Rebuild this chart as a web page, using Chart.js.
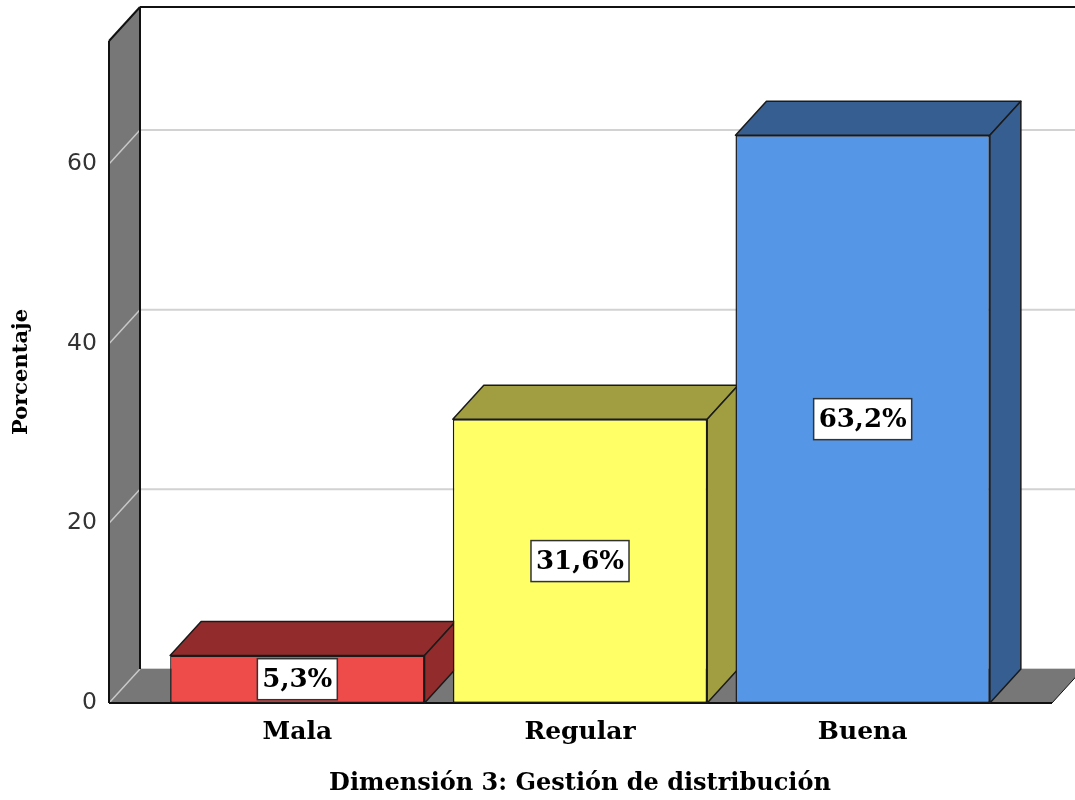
<!DOCTYPE html>
<html>
<head>
<meta charset="utf-8">
<script src="https://cdn.jsdelivr.net/npm/chart.js@4.4.1/dist/chart.umd.min.js"></script>
<style>
  body { margin: 0; background: #fff; }
  #wrap { width: 1075px; height: 800px; }
</style>
</head>
<body>
<div id="wrap"><canvas id="chart" width="1075" height="800"></canvas></div>
<script>
const categories = ["Mala", "Regular", "Buena"];
const percentages = [5.3, 31.6, 63.2];
const valueLabels = ["5,3%", "31,6%", "63,2%"];
const yTicks = [0, 20, 40, 60];
const frontColors = ["#EE4B4B", "#FFFF66", "#5596E6"];
const shadeColors = ["#922C2C", "#A09E40", "#365E91"];

const DX = 31;
const DY = -34;
const serif = "'DejaVu Serif', serif";

function poly(ctx, pts) {
  ctx.beginPath();
  ctx.moveTo(pts[0][0], pts[0][1]);
  for (let i = 1; i < pts.length; i++) ctx.lineTo(pts[i][0], pts[i][1]);
  ctx.closePath();
}

function line(ctx, x1, y1, x2, y2) {
  ctx.beginPath();
  ctx.moveTo(x1, y1);
  ctx.lineTo(x2, y2);
  ctx.stroke();
}

const depthPlugin = {
  id: "depth",
  beforeDatasetsDraw(chart) {
    const { ctx, chartArea: area, scales } = chart;
    const y = scales.y;
    const left = area.left - 47;
    const right = area.right + 48;
    const base = y.getPixelForValue(0);
    const top = area.top;
    ctx.save();

    // grid lines on the back wall
    ctx.strokeStyle = "#d2d2d2";
    ctx.lineWidth = 2;
    yTicks.forEach((v) => {
      const py = y.getPixelForValue(v);
      line(ctx, left + DX, py + DY, chart.width, py + DY);
    });

    // left wall
    ctx.fillStyle = "#777777";
    poly(ctx, [[left, top], [left + DX, top + DY], [left + DX, base + DY], [left, base]]);
    ctx.fill();

    // floor
    poly(ctx, [[left, base], [left + DX, base + DY], [right + DX, base + DY], [right, base]]);
    ctx.fill();

    // grid lines on the left wall
    ctx.strokeStyle = "#c8c8c8";
    ctx.lineWidth = 1.5;
    yTicks.forEach((v) => {
      const py = y.getPixelForValue(v);
      line(ctx, left, py, left + DX, py + DY);
    });

    // frame edges
    ctx.strokeStyle = "#111";
    ctx.lineWidth = 2;
    line(ctx, left, base, left, top);
    line(ctx, left, top, left + DX, top + DY);
    line(ctx, left + DX, top + DY, chart.width, top + DY);
    line(ctx, left + DX, top + DY, left + DX, base + DY);
    line(ctx, left, base, right, base);
    ctx.lineWidth = 1;
    line(ctx, right, base, right + DX, base + DY);

    // top and side faces of the bars
    const meta = chart.getDatasetMeta(0);
    ctx.strokeStyle = "#1a1a1a";
    ctx.lineWidth = 1.5;
    ctx.lineJoin = "round";
    meta.data.forEach((bar, i) => {
      const l = bar.x - bar.width / 2;
      const r = bar.x + bar.width / 2;
      const t = bar.y;
      const b = bar.base;
      ctx.fillStyle = shadeColors[i];
      poly(ctx, [[l, t], [l + DX, t + DY], [r + DX, t + DY], [r, t]]);
      ctx.fill();
      ctx.stroke();
      poly(ctx, [[r, t], [r + DX, t + DY], [r + DX, b + DY], [r, b]]);
      ctx.fill();
      ctx.stroke();
    });
    ctx.restore();
  },
  afterDatasetsDraw(chart) {
    const { ctx } = chart;
    const meta = chart.getDatasetMeta(0);
    ctx.save();
    ctx.font = "bold 26px " + serif;
    ctx.textAlign = "center";
    ctx.textBaseline = "middle";
    meta.data.forEach((bar, i) => {
      const cx = bar.x;
      const cy = (bar.y + bar.base) / 2;
      const w = ctx.measureText(valueLabels[i]).width + 10;
      const h = 41;
      ctx.fillStyle = "#fff";
      ctx.fillRect(cx - w / 2, cy - h / 2, w, h);
      ctx.strokeStyle = "#333";
      ctx.lineWidth = 1.5;
      ctx.strokeRect(cx - w / 2, cy - h / 2, w, h);
      ctx.fillStyle = "#000";
      ctx.fillText(valueLabels[i], cx, cy + 1);
    });
    ctx.restore();
  },
};

new Chart(document.getElementById("chart"), {
  type: "bar",
  data: {
    labels: categories,
    datasets: [
      {
        data: percentages,
        backgroundColor: frontColors,
        borderColor: "#1a1a1a",
        borderWidth: 1.5,
        borderSkipped: false,
        barPercentage: 0.9,
        categoryPercentage: 1,
      },
    ],
  },
  options: {
    responsive: false,
    animation: false,
    layout: { padding: { top: 41, right: 71, left: 0, bottom: 0 } },
    plugins: {
      legend: { display: false },
      tooltip: { enabled: false },
    },
    scales: {
      x: {
        grid: { display: false },
        border: { display: false },
        ticks: {
          color: "#000",
          padding: 6,
          font: { family: serif, size: 25, weight: "bold" },
        },
        title: {
          display: true,
          text: "Dimensión 3: Gestión de distribución",
          color: "#000",
          padding: { top: 0, bottom: 2 },
          font: { family: serif, size: 24, weight: "bold" },
        },
        afterFit: (axis) => {
          axis.height = 97;
        },
      },
      y: {
        min: 0,
        max: 73.7,
        grid: { display: false },
        border: { display: false },
        ticks: {
          color: "#333",
          padding: 51,
          font: { family: "'DejaVu Sans', sans-serif", size: 23.5 },
        },
        afterBuildTicks: (axis) => {
          axis.ticks = yTicks.map((v) => ({ value: v }));
        },
        title: {
          display: true,
          text: "Porcentaje",
          color: "#000",
          padding: { top: 9, bottom: 0 },
          font: { family: serif, size: 21, weight: "bold" },
        },
        afterFit: (axis) => {
          axis.width = 156;
          axis.paddingTop = 0;
          axis.paddingBottom = 0;
        },
      },
    },
  },
  plugins: [depthPlugin],
});
</script>
</body>
</html>
